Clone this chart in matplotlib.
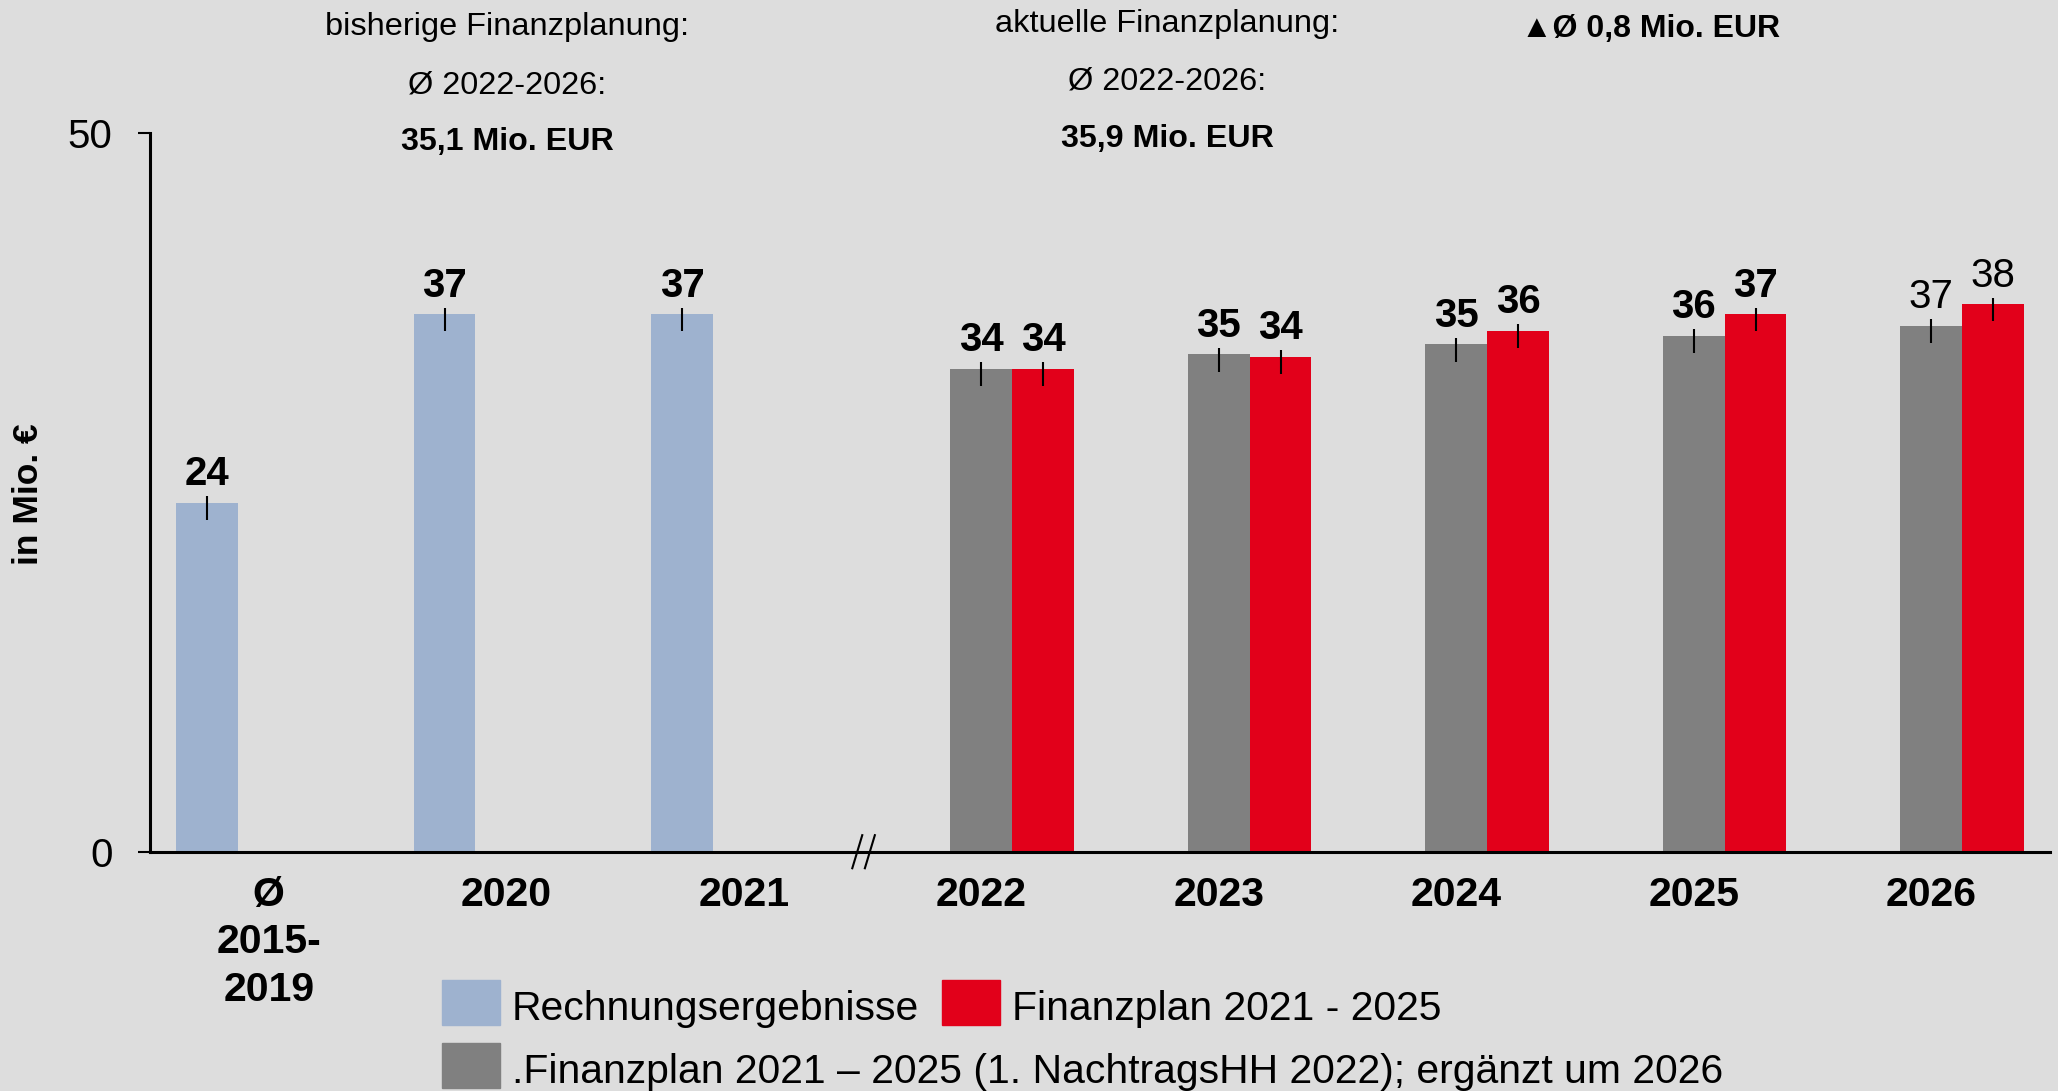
import numpy as np
import matplotlib
matplotlib.use("Agg")
import matplotlib.pyplot as plt
from matplotlib.patches import Rectangle

plt.rcParams['font.family'] = ['Liberation Sans', 'DejaVu Sans']

# data
categories = ['Ø\n2015-\n2019', '2020', '2021', '2022', '2023', '2024', '2025', '2026']
rechnung = [24.3, 37.4, 37.4, np.nan, np.nan, np.nan, np.nan, np.nan]
nachtrag = [np.nan, np.nan, np.nan, 33.6, 34.6, 35.3, 35.9, 36.6]
finanzplan = [np.nan, np.nan, np.nan, 33.6, 34.45, 36.25, 37.4, 38.1]

series_names = ['Rechnungsergebnisse', 'Finanzplan 2021 - 2025',
                '.Finanzplan 2021 – 2025 (1. NachtragsHH 2022); ergänzt um 2026']

top_left = ['bisherige Finanzplanung:', 'Ø 2022-2026:', '35,1 Mio. EUR']
top_right = ['aktuelle Finanzplanung:', 'Ø 2022-2026:', '35,9 Mio. EUR']
delta_text = '▲Ø 0,8 Mio. EUR'

BG = '#DDDDDD'
C_BLUE = '#9EB2CF'
C_GRAY = '#808080'
C_RED = '#E2001A'

W, H = 2058, 1091
fig = plt.figure(figsize=(W / 100, H / 100), dpi=100, facecolor=BG)
ax = fig.add_axes([150 / W, 1 - 852 / H, 1900 / W, 719 / H])
ax.set_facecolor(BG)

x = np.arange(len(categories))
bw = 0.26
groups = [(rechnung, -bw, C_BLUE), (nachtrag, 0, C_GRAY), (finanzplan, bw, C_RED)]

for vals, off, col in groups:
    vals = np.array(vals, dtype=float)
    ax.bar(x + off, vals, width=bw, color=col, zorder=2)
    ok = ~np.isnan(vals)
    # small marker lines across the bar tops
    ax.vlines(x[ok] + off, vals[ok] - 1.2, vals[ok] + 0.45, color='black', lw=1.5, zorder=3)
    for xi, v in zip(x[ok], vals[ok]):
        bold = categories[xi] != '2026'
        ax.annotate(str(int(round(v))), (xi + off, v + 0.45), xytext=(0, 8),
                    textcoords='offset points', ha='center', va='baseline',
                    fontsize=29, fontweight='bold' if bold else 'normal')

ax.set_xlim(-0.5, 7.5)
ax.set_ylim(0, 50)
ax.set_yticks([0, 50])
ax.set_xticks(x)
ax.set_xticklabels(categories, fontsize=29.5, fontweight='bold', linespacing=1.32)
ax.tick_params(axis='x', length=0, pad=17)
ax.tick_params(axis='y', length=9, width=1.5, pad=18, labelsize=29)
for s in ['top', 'right']:
    ax.spines[s].set_visible(False)
for s in ['left', 'bottom']:
    ax.spines[s].set_linewidth(2.2)

# axis break marks
for c in [2.478, 2.531]:
    ax.plot([c - 0.021, c + 0.021], [-1.13, 1.17], color='black', lw=1.5,
            clip_on=False, zorder=4)

ax.set_ylabel('in Mio. €', fontsize=25.5, fontweight='bold', va='center')
ax.yaxis.set_label_coords(-0.064, 0.497)

# headers above the chart
for txt, yb, wt, fs in zip(top_left, [35, 93, 150], ['normal', 'normal', 'bold'], [23.4, 23.4, 23.2]):
    fig.text(507 / W, 1 - yb / H, txt, ha='center', va='baseline', fontsize=fs, fontweight=wt)
for txt, yb, wt, fs in zip(top_right, [32, 90, 147], ['normal', 'normal', 'bold'], [23.4, 23.4, 23.2]):
    fig.text(1167 / W, 1 - yb / H, txt, ha='center', va='baseline', fontsize=fs, fontweight=wt)
fig.text(1651 / W, 1 - 37 / H, delta_text, ha='center', va='baseline', fontsize=23, fontweight='bold')

# legend drawn by hand
legend_items = [(442, 980, C_BLUE, series_names[0]),
                (942, 980, C_RED, series_names[1]),
                (442, 1043, C_GRAY, series_names[2])]
for px, py, col, name in legend_items:
    fig.add_artist(Rectangle((px / W, 1 - (py + 45) / H), 58 / W, 45 / H,
                             transform=fig.transFigure, color=col))
    fig.text((px + 70) / W, 1 - (py + 29) / H, name, ha='left', va='center', fontsize=29.4)

fig.savefig('out.png', dpi=100, facecolor=BG)
